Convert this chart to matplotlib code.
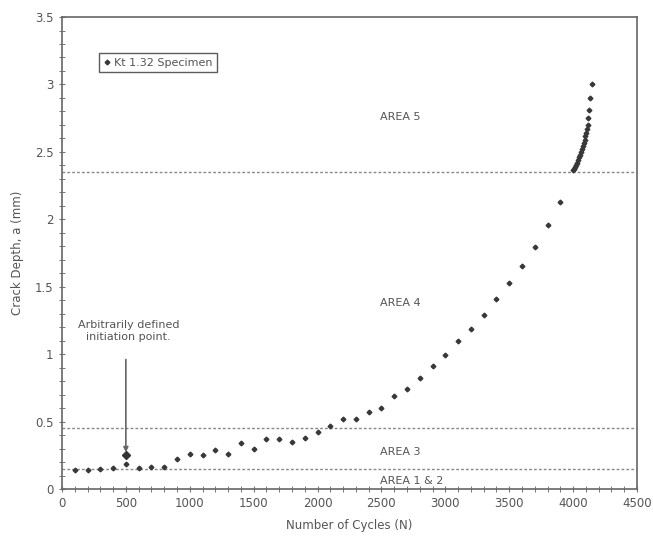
import matplotlib
matplotlib.use("Agg")
import matplotlib.pyplot as plt
from matplotlib.ticker import MultipleLocator

cycles = [100, 200, 300, 400, 500, 600, 700, 800, 900, 1000, 1100, 1200, 1300, 1400,
          1500, 1600, 1700, 1800, 1900, 2000, 2100, 2200, 2300, 2400, 2500, 2600, 2700,
          2800, 2900, 3000, 3100, 3200, 3300, 3400, 3500, 3600, 3700, 3800, 3900,
          4000, 4008, 4017, 4025, 4033, 4040, 4048, 4056, 4064, 4070, 4077, 4085, 4090,
          4095, 4100, 4105, 4113, 4119, 4124, 4132, 4150]
depth = [0.141, 0.139, 0.146, 0.153, 0.183, 0.153, 0.163, 0.161, 0.225, 0.259, 0.25, 0.289,
         0.259, 0.343, 0.294, 0.373, 0.368, 0.351, 0.381, 0.42, 0.465, 0.519, 0.522, 0.569,
         0.60, 0.692, 0.741, 0.825, 0.909, 0.996, 1.095, 1.189, 1.292, 1.408, 1.525, 1.651,
         1.796, 1.96, 2.13,
         2.365, 2.375, 2.39, 2.405, 2.42, 2.44, 2.46, 2.48, 2.50, 2.52, 2.54, 2.565, 2.59,
         2.615, 2.64, 2.67, 2.70, 2.75, 2.81, 2.90, 3.0]

init_point = (500, 0.252)
boundaries = [0.15, 0.45, 2.35]
area_labels = ["AREA 1 & 2", "AREA 3", "AREA 4", "AREA 5"]
area_label_y = [0.06, 0.275, 1.38, 2.76]

gray = "#555555"
fig = plt.figure(figsize=(6.53, 5.42), dpi=100)
ax = fig.add_axes([0.0949, 0.0978, 0.8806, 0.8708])

for b in boundaries:
    ax.axhline(b, color="#888888", lw=1.0, ls=(0, (2, 1.5)), zorder=1)

ax.plot(cycles, depth, ls="none", marker="D", ms=2.4, color="#383838",
        label="Kt 1.32 Specimen", zorder=3)
ax.plot([init_point[0]], [init_point[1]], ls="none", marker="D", ms=3.6, color="#333333", zorder=3)

for lab, yy in zip(area_labels, area_label_y):
    ax.text(2490, yy, lab, fontsize=8, color=gray, ha="left", va="center")

ax.text(520, 1.17, "Arbitrarily defined\ninitiation point.", ha="center", va="center",
        fontsize=8, color=gray)
ax.annotate("", xy=(500, init_point[1] + 0.02), xytext=(500, 0.96),
            arrowprops=dict(arrowstyle="-|>", color="#666666", lw=1.2,
                            shrinkA=0, shrinkB=0, mutation_scale=7))

ax.set_xlim(0, 4500)
ax.set_ylim(0, 3.5)
ax.xaxis.set_major_locator(MultipleLocator(500))
ax.xaxis.set_minor_locator(MultipleLocator(100))
ax.yaxis.set_minor_locator(MultipleLocator(0.1))
ax.set_yticks([0, 0.5, 1, 1.5, 2, 2.5, 3, 3.5])
ax.set_yticklabels(["0", "0.5", "1", "1.5", "2", "2.5", "3", "3.5"])
ax.tick_params(which="both", direction="inout", colors="#777777", labelcolor=gray,
               labelsize=8.5)
ax.tick_params(which="major", length=5)
ax.tick_params(which="minor", length=4, width=0.7)
for s in ax.spines.values():
    s.set_color("#666666")
    s.set_linewidth(1.2)

ax.set_xlabel("Number of Cycles (N)", fontsize=8.5, color=gray, labelpad=6)
ax.set_ylabel("Crack Depth, a (mm)", fontsize=8.5, color=gray, labelpad=8)

leg = ax.legend(loc="upper left", bbox_to_anchor=(0.055, 0.935), fontsize=8,
                frameon=True, fancybox=False, handlelength=0.6, handletextpad=0.3,
                borderpad=0.4, labelcolor=gray)
leg.get_frame().set_edgecolor("#333333")
leg.get_frame().set_linewidth(1.0)

fig.savefig("out.png", dpi=100)
